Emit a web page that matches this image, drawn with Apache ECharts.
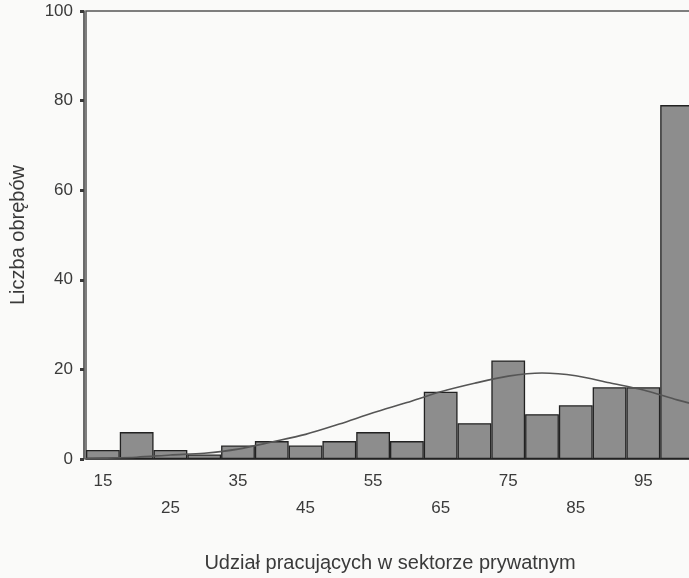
<!DOCTYPE html>
<html>
<head>
<meta charset="utf-8">
<script src="https://cdn.jsdelivr.net/npm/echarts@6/dist/echarts.min.js"></script>
<style>
html,body{margin:0;padding:0;background:#fafaf9;overflow:hidden;}
#chart{width:700px;height:578px;}
</style>
</head>
<body>
<div id="chart"></div>
<script>
// Bin centres (Udział pracujących w sektorze prywatnym, %)
const categories = ['15','20','25','30','35','40','45','50','55','60','65','70','75','80','85','90','95','100'];
// Liczba obrębów per bin
const counts = [2, 6, 2, 1, 3, 4, 3, 4, 6, 4, 15, 8, 22, 10, 12, 16, 16, 79];
// Fitted normal curve at these x positions
const curveX = [12.5, 15, 20, 25, 30, 35, 40, 45, 50, 55, 60, 65, 70, 75, 80, 85, 90, 95, 100, 102.5];
const curveY = [0.1, 0.2, 0.4, 0.9, 1.3, 2.2, 3.8, 5.5, 7.8, 10.3, 12.6, 15.0, 16.9, 18.5, 19.2, 18.6, 17.0, 15.4, 13.2, 12.2];
// Labels shown on the x axis (two staggered rows)
const xLabelsRow1 = ['15','35','55','75','95'];
const xLabelsRow2 = ['25','45','65','85'];
const yTicks = [0, 20, 40, 60, 80, 100];

const chart = echarts.init(document.getElementById('chart'));
const font = '"Liberation Sans", Arial, Helvetica, sans-serif';
const ink = '#3a3a3a';

chart.setOption({
  backgroundColor: '#fafaf9',
  animation: false,
  grid: {left: 85, top: 11, width: 609, height: 453, show: true, borderColor: '#555', borderWidth: 1.5, backgroundColor: 'transparent'},
  xAxis: [
    {
      type: 'category', data: categories, boundaryGap: true,
      name: 'Udział pracujących w sektorze prywatnym', nameLocation: 'middle', nameGap: 94,
      nameTextStyle: {fontFamily: font, fontSize: 20, color: ink},
      axisLine: {lineStyle: {color: ink, width: 1.5}},
      axisTick: {alignWithLabel: true, interval: 0, length: 4, lineStyle: {color: ink, width: 3}},
      axisLabel: {
        interval: 0, margin: 9, lineHeight: 27, fontFamily: font, fontSize: 17, color: ink,
        formatter: function (v) {
          if (xLabelsRow1.indexOf(v) >= 0) return v;
          if (xLabelsRow2.indexOf(v) >= 0) return '\n' + v;
          return '';
        }
      },
      splitLine: {show: false}
    },
    {type: 'value', min: 12.5, max: 102.5, show: false}
  ],
  yAxis: {
    type: 'value', min: yTicks[0], max: yTicks[yTicks.length - 1], interval: 20, offset: 2,
    name: 'Liczba obrębów', nameLocation: 'middle', nameGap: 56,
    nameTextStyle: {fontFamily: font, fontSize: 20, color: ink},
    axisLine: {show: true, lineStyle: {color: ink, width: 1.5}},
    axisTick: {show: true, length: 4, lineStyle: {color: ink, width: 3}},
    axisLabel: {margin: 11, fontFamily: font, fontSize: 17, color: ink},
    splitLine: {show: false}
  },
  series: [
    {
      type: 'bar', xAxisIndex: 0, data: counts, barCategoryGap: '0%',
      itemStyle: {color: '#8d8d8d', borderColor: '#222', borderWidth: 1.3},
      z: 2
    },
    {
      type: 'line', xAxisIndex: 1, data: curveX.map((x, i) => [x, curveY[i]]),
      showSymbol: false, smooth: 0.3,
      lineStyle: {color: '#555', width: 1.6},
      z: 3
    }
  ]
});
</script>
</body>
</html>
